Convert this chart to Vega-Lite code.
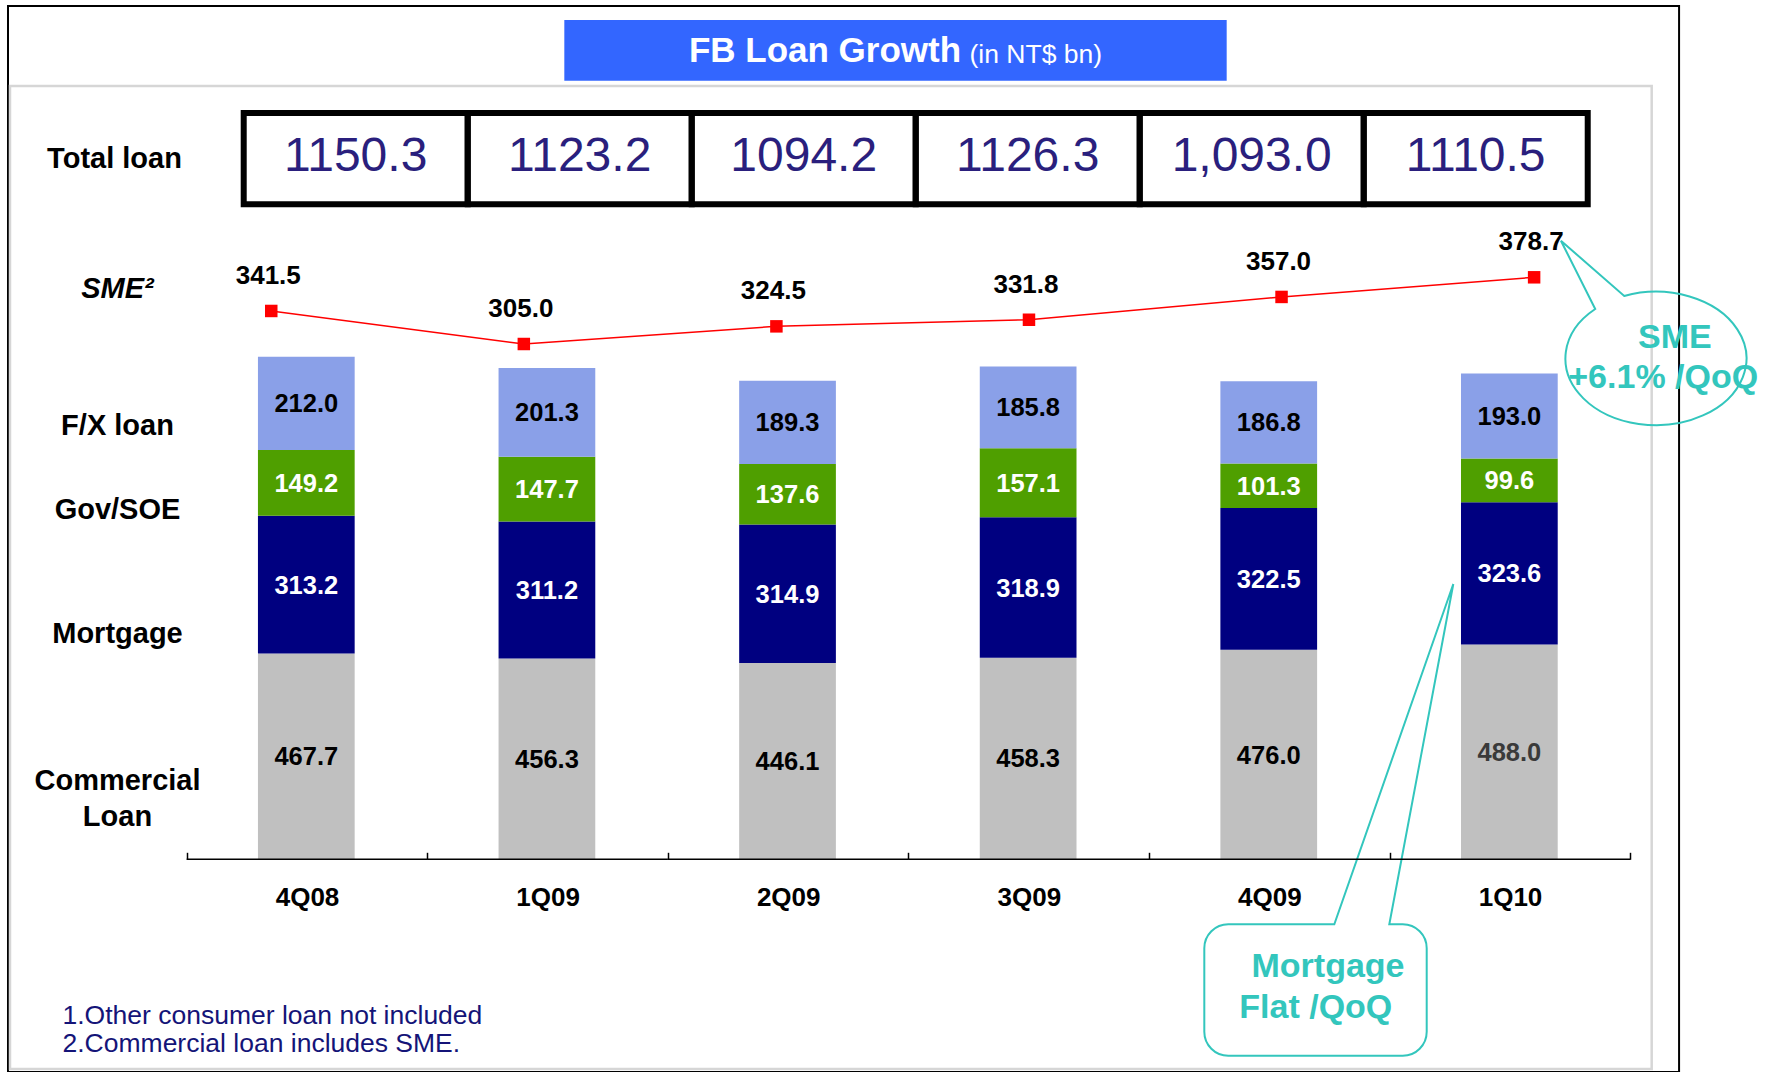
{
  "$schema": "https://vega.github.io/schema/vega-lite/v6.json",
  "width": 1768,
  "height": 1072,
  "autosize": {"type": "none"},
  "padding": 0,
  "background": "#ffffff",
  "config": {"view": {"stroke": null}, "font": "Liberation Sans"},
  "datasets": {
    "loans": [
      {"quarter": "4Q08", "type": "Commercial Loan", "value": 467.7, "seg": 1},
      {"quarter": "4Q08", "type": "Mortgage", "value": 313.2, "seg": 2},
      {"quarter": "4Q08", "type": "Gov/SOE", "value": 149.2, "seg": 3},
      {"quarter": "4Q08", "type": "F/X loan", "value": 212.0, "seg": 4},
      {"quarter": "1Q09", "type": "Commercial Loan", "value": 456.3, "seg": 1},
      {"quarter": "1Q09", "type": "Mortgage", "value": 311.2, "seg": 2},
      {"quarter": "1Q09", "type": "Gov/SOE", "value": 147.7, "seg": 3},
      {"quarter": "1Q09", "type": "F/X loan", "value": 201.3, "seg": 4},
      {"quarter": "2Q09", "type": "Commercial Loan", "value": 446.1, "seg": 1},
      {"quarter": "2Q09", "type": "Mortgage", "value": 314.9, "seg": 2},
      {"quarter": "2Q09", "type": "Gov/SOE", "value": 137.6, "seg": 3},
      {"quarter": "2Q09", "type": "F/X loan", "value": 189.3, "seg": 4},
      {"quarter": "3Q09", "type": "Commercial Loan", "value": 458.3, "seg": 1},
      {"quarter": "3Q09", "type": "Mortgage", "value": 318.9, "seg": 2},
      {"quarter": "3Q09", "type": "Gov/SOE", "value": 157.1, "seg": 3},
      {"quarter": "3Q09", "type": "F/X loan", "value": 185.8, "seg": 4},
      {"quarter": "4Q09", "type": "Commercial Loan", "value": 476.0, "seg": 1},
      {"quarter": "4Q09", "type": "Mortgage", "value": 322.5, "seg": 2},
      {"quarter": "4Q09", "type": "Gov/SOE", "value": 101.3, "seg": 3},
      {"quarter": "4Q09", "type": "F/X loan", "value": 186.8, "seg": 4},
      {"quarter": "1Q10", "type": "Commercial Loan", "value": 488.0, "seg": 1},
      {"quarter": "1Q10", "type": "Mortgage", "value": 323.6, "seg": 2},
      {"quarter": "1Q10", "type": "Gov/SOE", "value": 99.6, "seg": 3},
      {"quarter": "1Q10", "type": "F/X loan", "value": 193.0, "seg": 4}
    ],
    "sme": [
      {"quarter": "4Q08", "sme": 341.5},
      {"quarter": "1Q09", "sme": 305.0},
      {"quarter": "2Q09", "sme": 324.5},
      {"quarter": "3Q09", "sme": 331.8},
      {"quarter": "4Q09", "sme": 357.0},
      {"quarter": "1Q10", "sme": 378.7}
    ],
    "totals": [
      {"quarter": "4Q08", "row": "Total loan", "total": "1150.3"},
      {"quarter": "1Q09", "row": "Total loan", "total": "1123.2"},
      {"quarter": "2Q09", "row": "Total loan", "total": "1094.2"},
      {"quarter": "3Q09", "row": "Total loan", "total": "1126.3"},
      {"quarter": "4Q09", "row": "Total loan", "total": "1,093.0"},
      {"quarter": "1Q10", "row": "Total loan", "total": "1110.5"}
    ],
    "boxes": [{"box": "frame"}],
    "heading": [{"title": "FB Loan Growth", "unit": "(in NT$ bn)"}]
  },
  "layer": [
    {
      "data": {"name": "boxes"},
      "mark": {"type": "rect", "filled": false, "color": "#000000", "strokeWidth": 2},
      "encoding": {
        "x": {"field": "box", "type": "nominal", "axis": null, "scale": {"paddingInner": 0, "paddingOuter": 0.029, "align": 0.0825}},
        "y": {"field": "box", "type": "nominal", "axis": null, "scale": {"paddingInner": 0, "paddingOuter": 0.002814, "align": 1}}
      }
    },
    {
      "data": {"name": "boxes"},
      "mark": {"type": "rect", "filled": false, "color": "#d6d6d6", "strokeWidth": 2.5},
      "encoding": {
        "x": {"field": "box", "type": "nominal", "axis": null, "scale": {"paddingInner": 0, "paddingOuter": 0.03847, "align": 0.0792}},
        "y": {"field": "box", "type": "nominal", "axis": null, "scale": {"paddingInner": 0, "paddingOuter": 0.04527, "align": 0.9663}}
      }
    },
    {
      "data": {"name": "heading"},
      "encoding": {
        "x": {"field": "title", "type": "nominal", "axis": null, "scale": {"paddingInner": 0, "paddingOuter": 0.8346, "align": 0.5104}},
        "y": {"field": "title", "type": "nominal", "axis": null, "scale": {"paddingInner": 0.87996, "paddingOuter": 1, "align": 0.01978}}
      },
      "layer": [
        {"mark": {"type": "rect", "color": "#3366ff"}},
        {"mark": {"type": "text", "align": "left", "baseline": "alphabetic", "dx": -206.6, "dy": 12, "fontSize": 35, "fontWeight": "bold", "color": "#ffffff"}, "encoding": {"text": {"field": "title"}}},
        {"mark": {"type": "text", "align": "left", "baseline": "alphabetic", "dx": 74, "dy": 13, "fontSize": 26.5, "color": "#ffffff"}, "encoding": {"text": {"field": "unit"}}}
      ]
    },
    {
      "data": {"name": "totals"},
      "encoding": {
        "x": {"field": "quarter", "type": "nominal", "sort": ["4Q08", "1Q09", "2Q09", "3Q09", "4Q09", "1Q10"], "axis": null, "scale": {"paddingInner": 0, "paddingOuter": 0.9464, "align": 0.5748}},
        "y": {"field": "row", "type": "nominal", "scale": {"paddingInner": 0.8141, "paddingOuter": 1, "align": 0.1152}, "axis": {"orient": "left", "offset": -114, "title": null, "domain": false, "ticks": false, "grid": false, "labelPadding": 0, "labelAlign": "center", "labelBaseline": "middle", "labelFontSize": 29, "labelFontWeight": "bold", "labelColor": "#000000"}}
      },
      "layer": [
        {"mark": {"type": "rect", "filled": false, "color": "#000000", "strokeWidth": 6}},
        {"mark": {"type": "text", "baseline": "alphabetic", "dy": 12.4, "fontSize": 48, "color": "#2a1f7d"}, "encoding": {"text": {"field": "total"}}}
      ]
    },
    {
      "data": {"name": "loans"},
      "encoding": {
        "x": {"field": "quarter", "type": "nominal", "sort": ["4Q08", "1Q09", "2Q09", "3Q09", "4Q09", "1Q10"], "axis": null, "scale": {"paddingInner": 0.598, "paddingOuter": 0.973, "align": 0.5509}}
      },
      "layer": [
        {
          "mark": {"type": "bar"},
          "encoding": {
            "y": {"field": "value", "type": "quantitative", "stack": "zero", "scale": {"domain": [-483.4, 1953.0], "nice": false, "zero": false},
              "axis": {"orient": "left", "offset": -117, "values": [180.2, 512.7, 793.9, 985.5, 1296.8],
                "labelExpr": "datum.value > 1200 ? 'SME²' : datum.value > 900 ? 'F/X loan' : datum.value > 700 ? 'Gov/SOE' : datum.value > 300 ? 'Mortgage' : ['Commercial', 'Loan']",
                "title": null, "domain": false, "ticks": false, "grid": false, "labelPadding": 0, "labelAlign": "center", "labelBaseline": "middle",
                "labelFontSize": 29, "labelFontWeight": "bold", "labelColor": "#000000",
                "labelFontStyle": {"condition": {"test": "datum.value > 1200", "value": "italic"}, "value": "normal"},
                "labelLineHeight": 36, "labelOverlap": false, "labelFlush": false}},
            "color": {"field": "type", "type": "nominal", "legend": null, "scale": {"domain": ["Commercial Loan", "Mortgage", "Gov/SOE", "F/X loan"], "range": ["#c0c0c0", "#000080", "#4f9f00", "#8aa0e8"]}},
            "order": {"field": "seg", "type": "quantitative"}
          }
        },
        {
          "mark": {"type": "text", "baseline": "alphabetic", "dy": 9, "fontSize": 25.5, "fontWeight": "bold"},
          "encoding": {
            "y": {"field": "value", "type": "quantitative", "stack": "zero", "bandPosition": 0.5},
            "detail": {"field": "type"},
            "order": {"field": "seg", "type": "quantitative"},
            "text": {"field": "value", "type": "quantitative", "format": ".1f"},
            "color": {"condition": [{"test": "datum.type == 'Mortgage' || datum.type == 'Gov/SOE'", "value": "#ffffff"}, {"test": "datum.quarter == '1Q10' && datum.type == 'Commercial Loan'", "value": "#3a3a3a"}], "value": "#000000"}
          }
        },
        {
          "mark": {"type": "point", "shape": "M-56.05,10.6L-120.05,350.9L-106.65,350.9A24,24,0,0,1,-82.65,374.9L-82.65,458.3A24,24,0,0,1,-106.65,482.3L-281.05,482.3A24,24,0,0,1,-305.05,458.3L-305.05,374.9A24,24,0,0,1,-281.05,350.9L-175.05,350.9Z", "size": 4, "filled": false, "color": "#33c6bd", "strokeWidth": 2},
          "encoding": {
            "y": {"field": "value", "type": "quantitative", "stack": "zero", "bandPosition": 0.5},
            "detail": {"field": "type"},
            "order": {"field": "seg", "type": "quantitative"},
            "opacity": {"condition": {"test": "datum.quarter == '1Q10' && datum.type == 'Mortgage'", "value": 1}, "value": 0}
          }
        },
        {
          "mark": {"type": "text", "baseline": "alphabetic", "dx": -181.35, "dy": 403.3, "fontSize": 34, "fontWeight": "bold", "color": "#33c6bd"},
          "encoding": {
            "y": {"field": "value", "type": "quantitative", "stack": "zero", "bandPosition": 0.5},
            "detail": {"field": "type"},
            "order": {"field": "seg", "type": "quantitative"},
            "text": {"value": "Mortgage"},
            "opacity": {"condition": {"test": "datum.quarter == '1Q10' && datum.type == 'Mortgage'", "value": 1}, "value": 0}
          }
        },
        {
          "mark": {"type": "text", "baseline": "alphabetic", "dx": -193.55, "dy": 444.3, "fontSize": 34, "fontWeight": "bold", "color": "#33c6bd"},
          "encoding": {
            "y": {"field": "value", "type": "quantitative", "stack": "zero", "bandPosition": 0.5},
            "detail": {"field": "type"},
            "order": {"field": "seg", "type": "quantitative"},
            "text": {"value": "Flat /QoQ"},
            "opacity": {"condition": {"test": "datum.quarter == '1Q10' && datum.type == 'Mortgage'", "value": 1}, "value": 0}
          }
        }
      ]
    },
    {
      "data": {"name": "totals"},
      "mark": {"type": "rect", "color": "#000000"},
      "encoding": {
        "x": {"field": "quarter", "type": "nominal", "sort": ["4Q08", "1Q09", "2Q09", "3Q09", "4Q09", "1Q10"], "scale": {"paddingInner": 0, "paddingOuter": 0.67415, "align": 0.5755},
          "axis": {"orient": "bottom", "offset": -212.7, "domain": false, "grid": false, "ticks": true, "tickBand": "extent", "tickSize": -7, "tickColor": "#000000", "tickWidth": 1.5,
            "labelAngle": 0, "labelFontSize": 26, "labelFontWeight": "bold", "labelColor": "#000000", "labelPadding": 53, "labelBaseline": "alphabetic",
            "title": ["1.Other consumer loan not included", "2.Commercial loan includes SME."],
            "titleFontSize": 26.5, "titleFontWeight": "normal", "titleColor": "#141478", "titleX": 62, "titleY": 164, "titleAlign": "left", "titleAnchor": "start", "titleBaseline": "alphabetic", "titleLineHeight": 28}},
        "y": {"field": "row", "type": "nominal", "axis": null, "scale": {"paddingInner": 0.99701, "paddingOuter": 1, "align": 0.80204}}
      }
    },
    {
      "data": {"name": "sme"},
      "encoding": {
        "x": {"field": "quarter", "type": "nominal", "sort": ["4Q08", "1Q09", "2Q09", "3Q09", "4Q09", "1Q10"], "axis": null, "scale": {"type": "point", "padding": 1.00545, "align": 0.537}},
        "y": {"field": "sme", "type": "quantitative", "axis": null, "scale": {"domain": [-499.4, 685.1], "nice": false, "zero": false}}
      },
      "layer": [
        {"mark": {"type": "line", "color": "#ff0000", "strokeWidth": 1.5}, "encoding": {"order": {"value": null}}},
        {"mark": {"type": "point", "shape": "square", "size": 156, "filled": true, "color": "#ff0000", "opacity": 1}},
        {"mark": {"type": "text", "baseline": "alphabetic", "dx": -3, "dy": -27, "fontSize": 26, "fontWeight": "bold", "color": "#000000"}, "encoding": {"text": {"field": "sme", "type": "quantitative", "format": ".1f"}}},
        {"transform": [{"filter": "datum.quarter == '1Q10'"}], "mark": {"type": "point", "shape": "M26.8,-36.6L90.1,18.7A90.5,66.7,0,1,1,61.1,31.7Z", "size": 4, "filled": false, "color": "#33c6bd", "strokeWidth": 2, "opacity": 1}},
        {"transform": [{"filter": "datum.quarter == '1Q10'"}], "mark": {"type": "text", "baseline": "alphabetic", "dx": 140.8, "dy": 70.7, "fontSize": 34, "fontWeight": "bold", "color": "#33c6bd"}, "encoding": {"text": {"value": "SME"}}},
        {"transform": [{"filter": "datum.quarter == '1Q10'"}], "mark": {"type": "text", "baseline": "alphabetic", "dx": 129.1, "dy": 110.7, "fontSize": 34, "fontWeight": "bold", "color": "#33c6bd"}, "encoding": {"text": {"value": "+6.1% /QoQ"}}}
      ]
    }
  ],
  "resolve": {"scale": {"x": "independent", "y": "independent"}}
}
